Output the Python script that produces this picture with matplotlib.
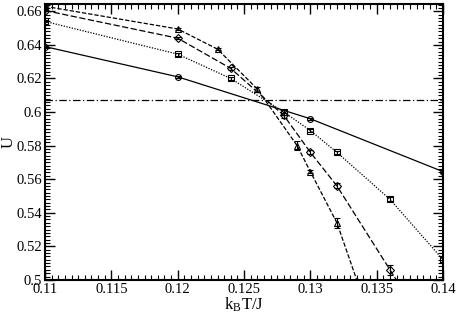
import numpy as np
import matplotlib
matplotlib.use('Agg')
import matplotlib.pyplot as plt
from matplotlib.ticker import MultipleLocator, FormatStrFormatter

plt.rcParams['font.family'] = ['Liberation Serif', 'DejaVu Serif']
plt.rcParams['mathtext.fontset'] = 'stix'

# circles, solid line
T_circ = [0.11, 0.12, 0.13, 0.14]
U_circ = [0.639, 0.621, 0.596, 0.5645]
E_circ = [0.0005, 0.0005, 0.0006, 0.0008]

# squares, dotted line
T_sq = [0.11, 0.12, 0.124, 0.128, 0.13, 0.132, 0.136, 0.14]
U_sq = [0.654, 0.6345, 0.620, 0.600, 0.589, 0.576, 0.548, 0.512]
E_sq = [0.0006, 0.0008, 0.0008, 0.0015, 0.0008, 0.0008, 0.0012, 0.0015]

# diamonds, dashed line
T_dia = [0.11, 0.12, 0.124, 0.128, 0.13, 0.132, 0.136, 0.14]
U_dia = [0.6605, 0.644, 0.626, 0.598, 0.576, 0.556, 0.506, 0.456]
E_dia = [0.0005, 0.0006, 0.0008, 0.0015, 0.0012, 0.0015, 0.003, 0.003]

# triangles, short dashed line
T_tri = [0.11, 0.12, 0.123, 0.126, 0.129, 0.13, 0.132, 0.136]
U_tri = [0.663, 0.6495, 0.6375, 0.6137, 0.580, 0.5645, 0.534, 0.443]
E_tri = [0.0005, 0.0007, 0.0008, 0.0015, 0.0025, 0.001, 0.003, 0.003]

U_cross = 0.607

fig = plt.figure(figsize=(4.57, 3.17), dpi=100)
ax = fig.add_axes([0.0985, 0.117, 0.871, 0.871])

mk = dict(color='black', mfc='none', mec='black', ms=4.2, mew=0.8,
          lw=0.9, capsize=2.5, elinewidth=0.8, capthick=0.8)
ax.errorbar(T_circ, U_circ, yerr=E_circ, marker='o', ls='-', **mk)
ax.errorbar(T_sq, U_sq, yerr=E_sq, marker='s', ls=(0, (1, 1.2)), **mk)
ax.errorbar(T_dia, U_dia, yerr=E_dia, marker='D', ls=(0, (5, 2)), **mk)
ax.errorbar(T_tri, U_tri, yerr=E_tri, marker='^', ls=(0, (3.5, 1.5)), **mk)
ax.axhline(U_cross, color='black', lw=0.9, ls=(0, (6, 2, 1, 2)))

ax.set_xlim(0.11, 0.14)
ax.set_ylim(0.5, 0.6645)
ax.xaxis.set_major_locator(MultipleLocator(0.005))
ax.xaxis.set_minor_locator(MultipleLocator(0.0005))
ax.yaxis.set_major_locator(MultipleLocator(0.02))
ax.yaxis.set_minor_locator(MultipleLocator(0.002))
ax.xaxis.set_major_formatter(FormatStrFormatter('%g'))
ax.yaxis.set_major_formatter(FormatStrFormatter('%g'))
ax.tick_params(which='both', direction='in', top=True, right=True, labelsize=10.5)
ax.tick_params(which='major', length=7, width=1, pad=2)
ax.tick_params(which='minor', length=3.5, width=0.8)
for s in ax.spines.values():
    s.set_linewidth(1.5)

ax.set_xlabel(r'k$_\mathregular{B}$T/J', fontsize=12, labelpad=0)
ax.set_ylabel('U', fontsize=12)
ax.yaxis.set_label_coords(-0.072, 0.5)

fig.savefig('out.png', dpi=100)
